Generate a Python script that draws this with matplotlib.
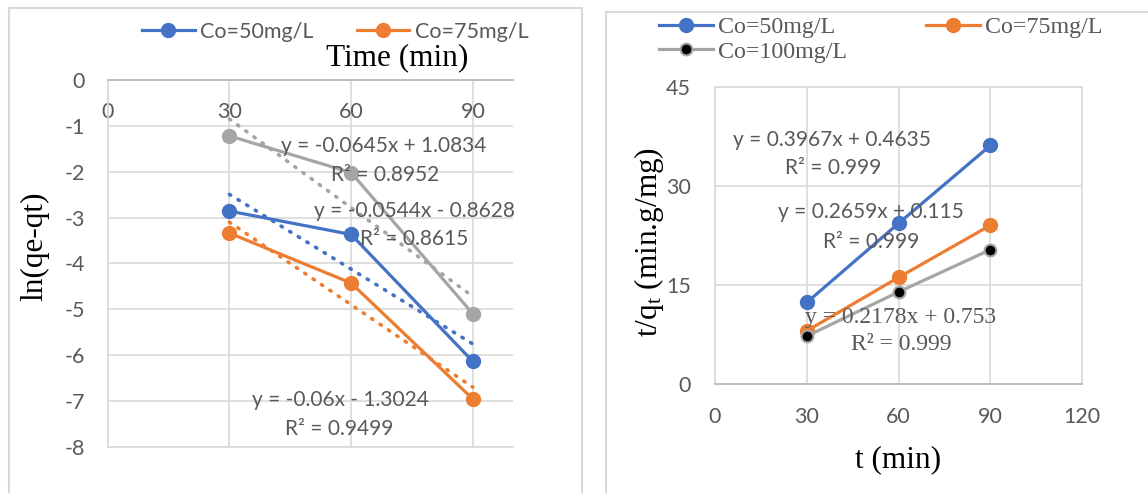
import matplotlib
matplotlib.use("Agg")
import matplotlib.pyplot as plt
from matplotlib.patches import Rectangle
from matplotlib.lines import Line2D
import numpy as np

# ---------------- data ----------------
time_min = [30, 60, 90]

# left chart: pseudo-first-order, ln(qe-qt)
ln_50 = [-2.86, -3.37, -6.14]
ln_75 = [-3.34, -4.43, -6.96]
ln_100 = [-1.22, -2.02, -5.10]
ln_slopes = [-0.0544, -0.06, -0.0645]
ln_intercepts = [-0.8628, -1.3024, 1.0834]
ln_r2 = [0.8615, 0.9499, 0.8952]

# right chart: pseudo-second-order, t/qt
tq_50 = [12.4, 24.4, 36.2]
tq_75 = [8.1, 16.2, 24.1]
tq_100 = [7.3, 14.0, 20.4]
tq_slopes = [0.3967, 0.2659, 0.2178]
tq_intercepts = [0.4635, 0.115, 0.753]
tq_r2 = [0.999, 0.999, 0.999]

series_labels = ["Co=50mg/L", "Co=75mg/L", "Co=100mg/L"]
left_xticks = [0, 30, 60, 90]
left_yticks = [0, -1, -2, -3, -4, -5, -6, -7, -8]
right_xticks = [0, 30, 60, 90, 120]
right_yticks = [0, 15, 30, 45]

# ---------------- style ----------------
W, H = 1148, 493
BLUE, ORANGE, GRAY = "#4472C4", "#ED7D31", "#A5A5A5"
GRID = "#D9D9D9"
TXT = "#595959"
SANS = ["Lato", "DejaVu Sans"]
SERIF = ["Liberation Serif", "DejaVu Serif"]

plt.rcParams["font.family"] = SANS
plt.rcParams["axes.unicode_minus"] = False
plt.rcParams["mathtext.fontset"] = "custom"
plt.rcParams["mathtext.rm"] = "Liberation Serif"
plt.rcParams["mathtext.it"] = "Liberation Serif:italic"

fig = plt.figure(figsize=(W / 100, H / 100), dpi=100)


def fx(px):
    return px / W


def fy(py):
    return 1 - py / H


# panel borders
fig.patches.append(Rectangle((fx(9), fy(560)), fx(582) - fx(9), fy(8) - fy(560),
                             transform=fig.transFigure, fill=False, ec=GRID, lw=1.5))
fig.patches.append(Rectangle((fx(606), fy(560)), fx(1300) - fx(606), fy(12) - fy(560),
                             transform=fig.transFigure, fill=False, ec=GRID, lw=1.5))

# ================= LEFT =================
axL = fig.add_axes([fx(107.7), fy(446.7), fx(513.4) - fx(107.7), fy(80) - fy(446.7)])
axL.set_xlim(0, 100)
axL.set_ylim(-8, 0)
axL.set_xticks(left_xticks)
axL.set_yticks(left_yticks)
axL.grid(True, color=GRID, lw=1.2)
axL.set_axisbelow(True)
axL.spines["right"].set_visible(False)
for s in ["left", "bottom"]:
    axL.spines[s].set_color(GRID)
    axL.spines[s].set_linewidth(1.2)
axL.spines["top"].set_color("#BFBFBF")
axL.spines["top"].set_linewidth(1.4)
axL.xaxis.set_ticks_position("top")
axL.tick_params(axis="x", length=0, pad=-23, labelsize=15.5, labelcolor=TXT)
axL.tick_params(axis="y", length=0, pad=16.3, labelsize=15.5, labelcolor=TXT)
for t in axL.xaxis.get_major_ticks():
    t.label2.set_va("center")

ms, lw = 10, 2.3
dot = (0, (0.4, 2.4))
for ys, c in [(ln_50, BLUE), (ln_75, ORANGE), (ln_100, GRAY)]:
    axL.plot(time_min, ys, color=c, lw=lw, marker="o", ms=ms, zorder=3)
for i, c in enumerate([BLUE, ORANGE, GRAY]):
    xs = np.array([time_min[0], time_min[-1]])
    axL.plot(xs, ln_slopes[i] * xs + ln_intercepts[i], color=c, lw=2.6,
             linestyle=dot, dash_capstyle="round", zorder=4)

axL.set_xlabel("Time (min)", family=SERIF, fontsize=22.5, color="black", va="center")
axL.xaxis.set_label_position("top")
axL.xaxis.set_label_coords((397 - 107.7) / 405.7, 1 + 15 / 366.7)
axL.set_ylabel("ln(qe-qt)", family=SERIF, fontsize=22.5, color="black", va="center")
axL.yaxis.set_label_coords((35 - 107.7) / 405.7, (446.7 - 246) / 366.7)

legL = fig.legend(
    [Line2D([], [], color=BLUE, lw=lw, marker="o", ms=ms),
     Line2D([], [], color=ORANGE, lw=lw, marker="o", ms=ms)],
    series_labels[:2], loc="center left", bbox_to_anchor=(fx(142), fy(32)),
    bbox_transform=fig.transFigure, ncol=2, frameon=False, fontsize=15.5,
    handlelength=2.45, handletextpad=0.25, columnspacing=2.0, borderpad=0,
    borderaxespad=0, labelcolor=TXT)


def eq_text(m, b):
    sign = "+" if b >= 0 else "-"
    return f"y = {m:g}x {sign} {abs(b):g}"


left_pos = [((414, 211), (414, 239)), ((340, 400), (339, 429)), ((384, 146), (385, 175))]
for i, ((x1, y1), (x2, y2)) in enumerate(left_pos):
    fig.text(fx(x1), fy(y1), eq_text(ln_slopes[i], ln_intercepts[i]), ha="center", va="center",
             fontsize=15, color=TXT, zorder=10)
    fig.text(fx(x2), fy(y2), f"R² = {ln_r2[i]:g}", ha="center", va="center",
             fontsize=15, color=TXT, zorder=10)

# ================= RIGHT =================
axR = fig.add_axes([fx(715), fy(384.3), fx(1082.3) - fx(715), fy(87.3) - fy(384.3)])
axR.set_xlim(0, 120)
axR.set_ylim(0, 45)
axR.set_xticks(right_xticks)
axR.set_yticks(right_yticks)
axR.grid(True, color=GRID, lw=1.2)
axR.set_axisbelow(True)
for s in ["left", "right", "top"]:
    axR.spines[s].set_color(GRID)
    axR.spines[s].set_linewidth(1.2)
axR.spines["bottom"].set_color("#BFBFBF")
axR.spines["bottom"].set_linewidth(1.4)
axR.tick_params(axis="x", length=0, pad=23.5, labelsize=15.5, labelcolor=TXT)
axR.tick_params(axis="y", length=0, pad=17.3, labelsize=15.5, labelcolor=TXT)
for t in axR.xaxis.get_major_ticks():
    t.label1.set_va("center")

hB, = axR.plot(time_min, tq_50, color=BLUE, lw=lw, marker="o", ms=ms, zorder=3)
hO, = axR.plot(time_min, tq_75, color=ORANGE, lw=lw, marker="o", ms=ms, zorder=3)
hG, = axR.plot(time_min, tq_100, color=GRAY, lw=lw, marker="o", ms=8.5, mfc="black",
               mec=GRAY, mew=1.5, zorder=3)

axR.set_xlabel("t (min)", family=SERIF, fontsize=22.5, color="black", va="center")
axR.xaxis.set_label_coords((898 - 715) / 367.3, -(460 - 384.3) / 297)
axR.set_ylabel(r"t/q$_\mathrm{t}$ (min.g/mg)", family=SERIF, fontsize=22.5, color="black",
               va="center")
axR.yaxis.set_label_coords((649 - 715) / 367.3, (384.3 - 242) / 297)

legR = fig.legend([hB, hG, hO], [series_labels[0], series_labels[2], series_labels[1]],
                  loc="center left", bbox_to_anchor=(fx(659), fy(39.5)),
                  bbox_transform=fig.transFigure, ncol=2, frameon=False,
                  prop={"family": SERIF, "size": 17.3}, handlelength=2.25, handletextpad=0.2,
                  columnspacing=3.3, labelspacing=0.12, borderpad=0, borderaxespad=0,
                  labelcolor=TXT)

right_pos = [((832, 140), (833, 168)), ((871, 212), (871, 242)), ((901, 317), (901, 345))]
for i, ((x1, y1), (x2, y2)) in enumerate(right_pos):
    kw = dict(ha="center", va="center", color=TXT, zorder=10)
    if i == 2:
        kw.update(family=SERIF, fontsize=17)
    else:
        kw.update(fontsize=15)
    fig.text(fx(x1), fy(y1), eq_text(tq_slopes[i], tq_intercepts[i]), **kw)
    fig.text(fx(x2), fy(y2), f"R² = {tq_r2[i]:g}", **kw)

fig.savefig("out.png", dpi=100)
